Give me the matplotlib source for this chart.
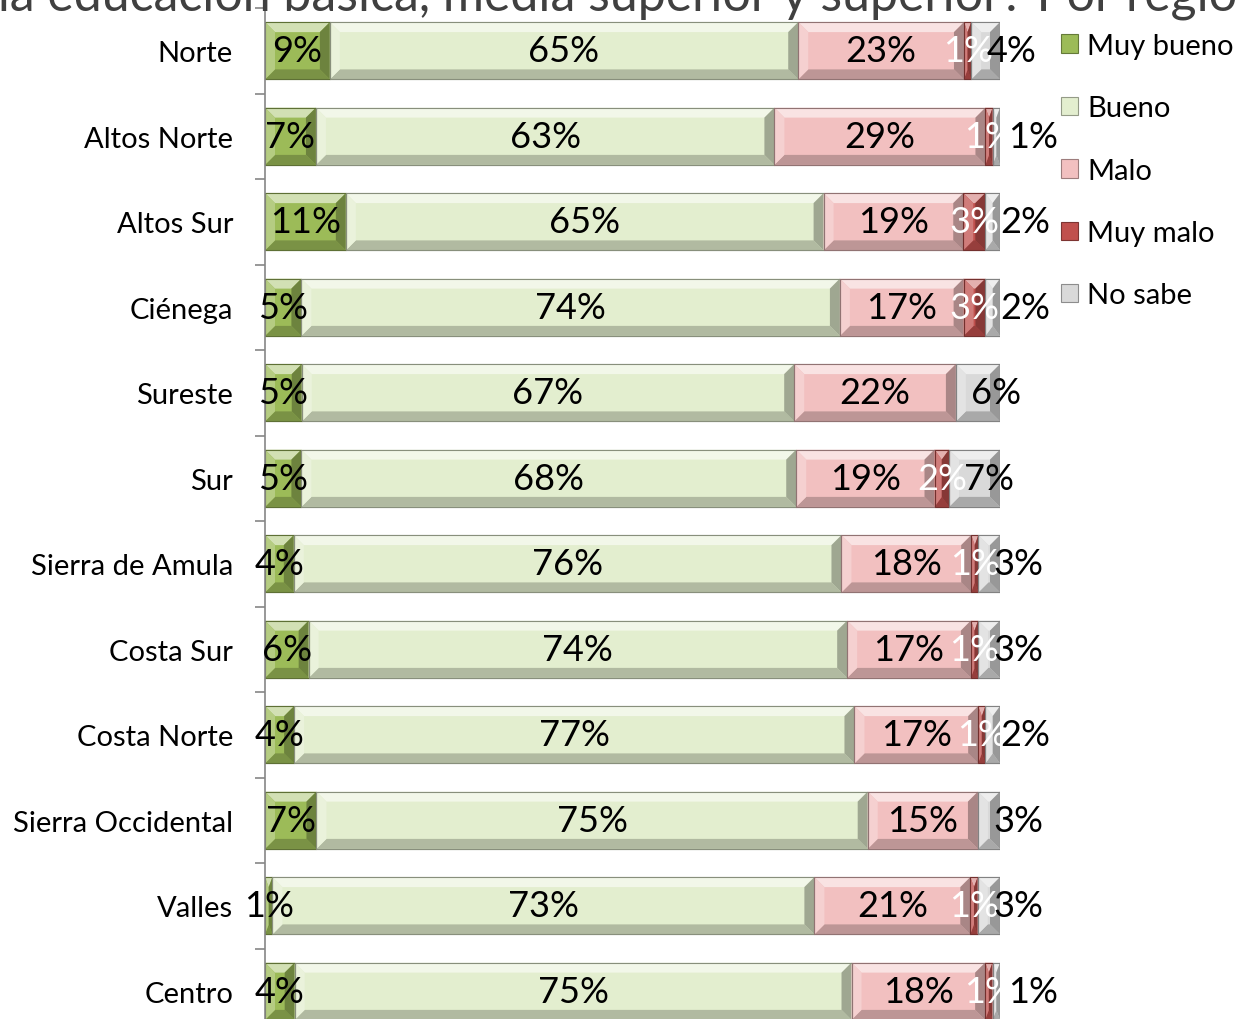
import matplotlib
matplotlib.use("Agg")
import matplotlib.pyplot as plt
from matplotlib.patches import Polygon
import numpy as np

plt.rcParams['font.family'] = ['Lato', 'DejaVu Sans']

regions = ["Norte", "Altos Norte", "Altos Sur", "Ciénega", "Sureste", "Sur",
           "Sierra de Amula", "Costa Sur", "Costa Norte", "Sierra Occidental",
           "Valles", "Centro"]
series = ["Muy bueno", "Bueno", "Malo", "Muy malo", "No sabe"]
muy_bueno = [9, 7, 11, 5, 5, 5, 4, 6, 4, 7, 1, 4]
bueno     = [65, 63, 65, 74, 67, 68, 76, 74, 77, 75, 73, 75]
malo      = [23, 29, 19, 17, 22, 19, 18, 17, 17, 15, 21, 18]
muy_malo  = [1, 1, 3, 3, 0, 2, 1, 1, 1, 0, 1, 1]
no_sabe   = [4, 1, 2, 2, 6, 7, 3, 3, 2, 3, 3, 1]
title = "la educación básica, media superior y superior? Por región"

colors = ["#9CBB58", "#E3EECF", "#F2C0C0", "#C0504D", "#D9D9D9"]
label_colors = ["black", "black", "black", "white", "black"]

data = np.array([muy_bueno, bueno, malo, muy_malo, no_sabe], dtype=float)
shares = data / data.sum(axis=0) * 100

W, H = 1238, 1020
fig = plt.figure(figsize=(W / 100, H / 100), dpi=100)
ax_top, ax_bot = 9, 1035
ax = fig.add_axes([265 / W, (H - ax_bot) / H, 735 / W, (ax_bot - ax_top) / H])

n = len(regions)
y = np.arange(n)
bar_h = 0.67
px_x = 100 / 735.0
px_y = n / (ax_bot - ax_top)


def mix(c, other, t):
    c = np.array(matplotlib.colors.to_rgb(c))
    o = np.array(matplotlib.colors.to_rgb(other))
    return tuple(c * (1 - t) + o * t)


left = np.zeros(n)
for k, (name, col) in enumerate(zip(series, colors)):
    vals = shares[k]
    ax.barh(y, vals, left=left, height=bar_h, color=col, edgecolor=mix(col, "black", 0.35),
            linewidth=0.8, label=name, zorder=2)
    for i in range(n):
        w = vals[i]
        if w <= 0:
            continue
        x0, x1 = left[i], left[i] + w
        y0, y1 = y[i] - bar_h / 2, y[i] + bar_h / 2  # y0 is visually top (inverted axis)
        bx = min(10 * px_x, w / 2)
        by = 10 * px_y
        ax.add_patch(Polygon([(x0, y0), (x1, y0), (x1 - bx, y0 + by), (x0 + bx, y0 + by)],
                             closed=True, facecolor=mix(col, "white", 0.55), edgecolor="none", zorder=3))
        ax.add_patch(Polygon([(x0, y1), (x1, y1), (x1 - bx, y1 - by), (x0 + bx, y1 - by)],
                             closed=True, facecolor=mix(col, "black", 0.22), edgecolor="none", zorder=3))
        ax.add_patch(Polygon([(x0, y0), (x0 + bx, y0 + by), (x0 + bx, y1 - by), (x0, y1)],
                             closed=True, facecolor=mix(col, "white", 0.25), edgecolor="none", zorder=3))
        ax.add_patch(Polygon([(x1, y0), (x1 - bx, y0 + by), (x1 - bx, y1 - by), (x1, y1)],
                             closed=True, facecolor=mix(col, "black", 0.30), edgecolor="none", zorder=3))
        ax.add_patch(plt.Rectangle((x0, y0), w, bar_h, facecolor="none",
                                   edgecolor=mix(col, "black", 0.4), linewidth=0.8, zorder=4))
        txt = f"{int(data[k, i])}%"
        if name == "No sabe":
            ax.annotate(txt, (x0, y[i]), xytext=(11, 0), textcoords="offset points",
                        ha="left", va="center", fontsize=26, color=label_colors[k],
                        zorder=6, annotation_clip=False)
        else:
            ax.text((x0 + x1) / 2, y[i], txt, ha="center", va="center", fontsize=26,
                    color=label_colors[k], zorder=6, clip_on=False)
    left += vals

ax.set_xlim(0, 100)
ax.set_ylim(n - 0.5, -0.5)
ax.set_yticks(y)
ax.set_yticklabels(regions, fontsize=21)
ax.set_yticks(np.arange(n + 1) - 0.5, minor=True)
ax.tick_params(axis="y", which="major", length=0, pad=23)
ax.tick_params(axis="y", which="minor", length=7, color="#868686", width=1.2)
ax.set_xticks([])
for s in ["top", "right", "bottom"]:
    ax.spines[s].set_visible(False)
ax.spines["left"].set_color("#868686")
ax.spines["left"].set_linewidth(1.2)
ax.spines["left"].set_zorder(5)

handles, labels = ax.get_legend_handles_labels()
leg = fig.legend(handles, labels, loc="upper left", bbox_to_anchor=(1049 / W, 1 - 22 / H),
                 frameon=False, fontsize=21, handlelength=0.6, handleheight=0.6,
                 handletextpad=0.3, labelspacing=1.25, borderaxespad=0)

fig.text(-2 / W, 1 - 11 / H, title, ha="left", va="baseline",
         fontsize=36, color="#404040")

fig.savefig("out.png", dpi=100)
